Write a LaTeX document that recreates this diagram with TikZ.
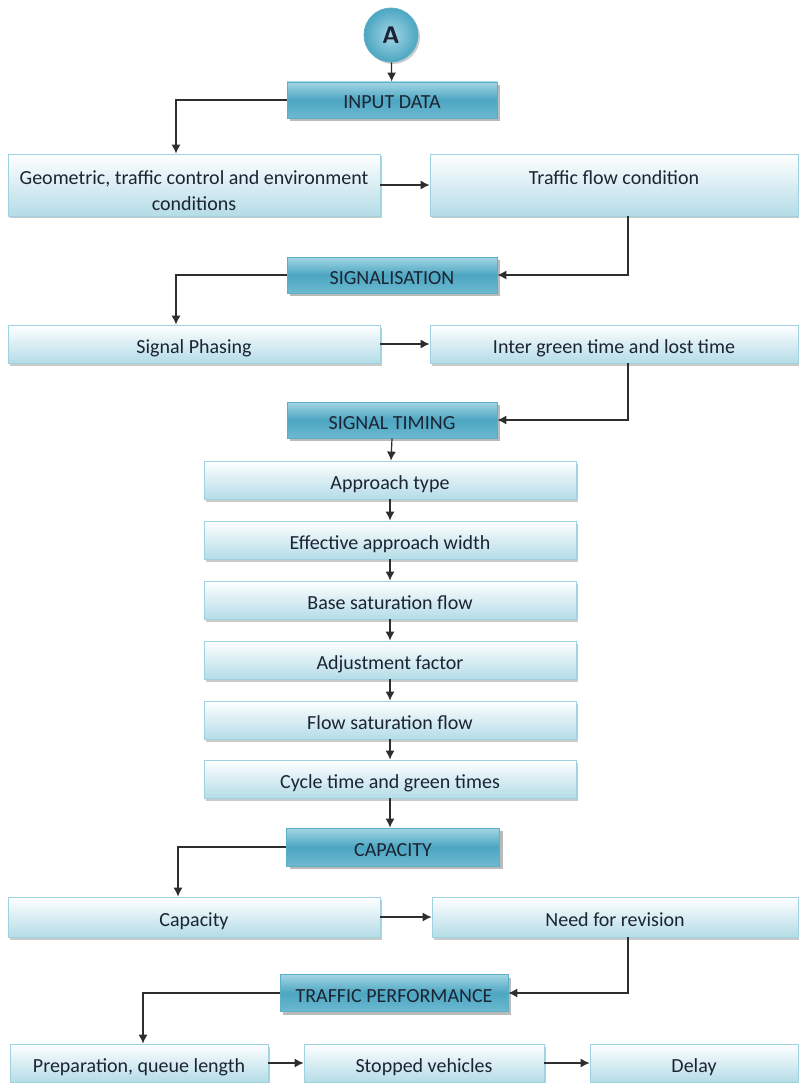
\documentclass[tikz,border=0pt]{standalone}
\usepackage{fontspec}
\setmainfont{Carlito}
\usepackage{tikz}
\usetikzlibrary{calc,positioning,arrows,arrows.meta,shapes,shadows}

\definecolor{headtop}{HTML}{A3D6E4}
\definecolor{headmid}{HTML}{4CA6C2}
\definecolor{headbot}{HTML}{6DB9D0}
\definecolor{headline}{HTML}{5DAFC8}
\definecolor{boxbot}{HTML}{B4DCE7}
\definecolor{boxline}{HTML}{9ED2E1}
\definecolor{txt}{HTML}{1C2433}
\definecolor{wire}{HTML}{2E2E2E}

\begin{document}
\begin{tikzpicture}[x=1pt, y=-1pt, >={Latex[length=9pt,width=9pt]}]
\tikzstyle{head}=[rectangle, draw=headline, line width=0.8pt,
                  top color=headtop, bottom color=headbot, middle color=headmid,
                  drop shadow={shadow xshift=3pt, shadow yshift=-3pt, fill=black!45, opacity=.6},
                  minimum width=210pt, minimum height=36pt, inner sep=0pt,
                  text height=18pt, text depth=0pt,
                  text=txt, font=\fontsize{20}{22}\selectfont]
\tikzstyle{item}=[rectangle, draw=boxline, line width=0.8pt,
                  top color=white, bottom color=boxbot,
                  drop shadow={shadow xshift=2pt, shadow yshift=-2.5pt, fill=black!35, opacity=.6},
                  minimum width=372pt, minimum height=38pt, inner sep=0pt,
                  text height=20pt, text depth=2pt,
                  align=center, text=txt, font=\fontsize{20}{26}\selectfont]
\tikzstyle{twoline}=[minimum height=62pt, text height=52pt, text depth=0pt]
\tikzstyle{wire}=[draw=wire, line width=1.2pt]
\useasboundingbox (0,0) rectangle (798,1083);

% start
\node[circle, draw=headline, line width=0.8pt, inner color=headtop, outer color=headmid,
      drop shadow={shadow xshift=2pt, shadow yshift=-2pt, fill=black!40, opacity=.5},
      minimum size=54pt, inner sep=0pt, text=txt,
      font=\fontsize{24}{24}\selectfont\bfseries\sffamily] (start) at (391,35) {A};

% input data
\node[head] (indata) at (392,100) {INPUT DATA};
\node[item, twoline] (geo) at (194,185) {Geometric, traffic control and environment\\conditions};
\node[item, twoline, minimum width=368pt] (traf) at (614,185) {Traffic flow condition\\\mbox{}};

% signalisation
\node[head] (sig) at (392,275) {SIGNALISATION};
\node[item] (phase) at (194,344) {Signal Phasing};
\node[item, minimum width=368pt] (inter) at (614,344) {Inter green time and lost time};

% signal timing
\node[head] (timing) at (392,420) {SIGNAL TIMING};
\node[item] (appr) at (390,480) {Approach type};
\node[item] (width) at (390,540) {Effective approach width};
\node[item] (base) at (390,600) {Base saturation flow};
\node[item] (adj) at (390,660) {Adjustment factor};
\node[item] (flow) at (390,720) {Flow saturation flow};
\node[item] (cycle) at (390,779) {Cycle time and green times};

% capacity
\node[head, minimum width=213pt, minimum height=38pt] (caphead) at (393,847) {CAPACITY};
\node[item, minimum height=40pt] (cap) at (194,917) {Capacity};
\node[item, minimum width=366pt, minimum height=40pt] (need) at (615,917) {Need for revision};

% traffic performance
\node[head, minimum width=228pt, minimum height=37pt] (perf) at (394,993) {TRAFFIC PERFORMANCE};
\node[item, minimum width=258pt] (prep) at (139,1063) {Preparation, queue length};
\node[item, minimum width=240pt] (stop) at (424,1063) {Stopped vehicles};
\node[item, minimum width=208pt] (delay) at (694,1063) {Delay};

% connectors
\draw[wire,->] (start) -- (indata);
\draw[wire,->] (indata.west) -| ([xshift=-18pt]geo.north);
\draw[wire,->] (geo) -- (traf);
\draw[wire,->] ([xshift=14pt]traf.south) |- (sig.east);
\draw[wire,->] (sig.west) -| ([xshift=-18pt]phase.north);
\draw[wire,->] (phase) -- (inter);
\draw[wire,->] ([xshift=14pt]inter.south) |- (timing.east);
\draw[wire,->] (timing.south) -- ([xshift=1pt]appr.north);
\draw[wire,->] (appr) -- (width);
\draw[wire,->] (width) -- (base);
\draw[wire,->] (base) -- (adj);
\draw[wire,->] (adj) -- (flow);
\draw[wire,->] (flow) -- (cycle);
\draw[wire,->] (cycle) -- (caphead.north -| cycle.south);
\draw[wire,->] (caphead.west) -| ([xshift=-16pt]cap.north);
\draw[wire,->] (cap) -- (need);
\draw[wire,->] ([xshift=13pt]need.south) |- (perf.east);
\draw[wire,->] (perf.west) -| ([xshift=4pt]prep.north);
\draw[wire,->] (prep) -- (stop);
\draw[wire,->] (stop) -- (delay);
\end{tikzpicture}
\end{document}
